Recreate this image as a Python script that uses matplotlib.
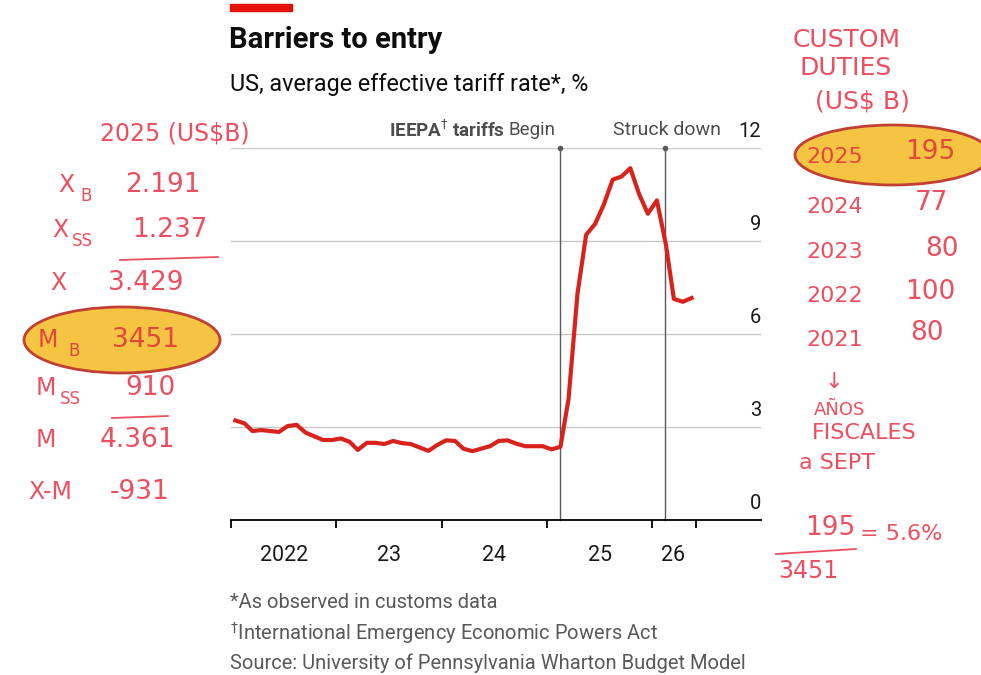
import pandas as pd
import matplotlib
matplotlib.use("Agg")
import matplotlib.pyplot as plt
from matplotlib.patches import Ellipse, Rectangle

plt.rcParams["font.family"] = ["Roboto", "DejaVu Sans"]

# monthly average effective tariff rate, %, Jan 2022 - May 2026
months = pd.date_range("2022-01-01", periods=53, freq="MS")
rate = [3.21, 3.12, 2.87, 2.90, 2.87, 2.84, 3.03, 3.07, 2.82, 2.70, 2.58, 2.58,
        2.63, 2.52, 2.26, 2.49, 2.49, 2.45, 2.55, 2.48, 2.45, 2.34, 2.23, 2.42,
        2.57, 2.55, 2.30, 2.22, 2.30, 2.38, 2.55, 2.57, 2.46, 2.38, 2.38, 2.38,
        2.28, 2.36, 3.90, 7.30, 9.20, 9.55, 10.17, 10.98, 11.08, 11.35, 10.50, 9.88,
        10.31, 8.90, 7.13, 7.04, 7.16]
events = {"Begin": "2025-02-14", "Struck down": "2026-02-14"}
year_labels = ["2022", "23", "24", "25", "26"]
yticks = [0, 3, 6, 9, 12]

# handwritten notes
left_notes = [("X", "B", "2.191"), ("X", "SS", "1.237"), ("X", "", "3.429"),
              ("M", "B", "3451"), ("M", "SS", "910"), ("M", "", "4.361"), ("X-M", "", "-931")]
duty_years = ["2025", "2024", "2023", "2022", "2021"]
duty_vals = ["195", "77", "80", "100", "80"]


def dec_year(d):
    d = pd.Timestamp(d)
    return d.year + (d.dayofyear - 1) / 365.0


x = [dec_year(m) + 0.5 / 12 for m in months]

fig = plt.figure(figsize=(9.81, 6.75), dpi=100)
W, H = 981, 675

# main axes, placed in pixels
x0, x1, yb, yt = 231, 761, 520, 148
ax = fig.add_axes([x0 / W, 1 - yb / H, (x1 - x0) / W, (yb - yt) / H])
xmax = 2027.03
ax.set_xlim(2022, xmax)
ax.set_ylim(0, 12)

for v in yticks[1:]:
    ax.axhline(v, color="#c9c9c9", lw=1, zorder=1)
    ax.text(xmax, v + 0.22, str(v), ha="right", va="bottom", fontsize=14.5, color="#1a1a1a")
ax.text(xmax, 0.22, "0", ha="right", va="bottom", fontsize=14.5, color="#1a1a1a")

for name, d in events.items():
    xv = dec_year(d)
    ax.plot([xv, xv], [0, 12], color="#5a5a5a", lw=1, zorder=2, clip_on=False)
    ax.plot([xv], [12], "o", color="#5a5a5a", ms=3, zorder=2, clip_on=False)

ax.plot(x, rate, color="#d8231c", lw=3, solid_joinstyle="round", zorder=3)

for s in ["top", "right", "left"]:
    ax.spines[s].set_visible(False)
ax.spines["bottom"].set_linewidth(1.3)
ax.set_yticks([])
ax.set_xticks([2022, 2023, 2024, 2025, 2026, 2026.41])
ax.set_xticklabels([])
ax.tick_params(axis="x", direction="out", length=6, width=1.3)
for i, lab in enumerate(year_labels):
    xp = 2022.5 + i if lab != "26" else 2026.2
    ax.text(xp, -0.8, lab, ha="center", va="top", fontsize=15.5, color="#1a1a1a")

# event labels
fig.canvas.draw()
r = fig.canvas.get_renderer()
bx = dec_year(events["Begin"]) - 0.04
t1 = ax.text(bx, 12.58, "Begin", ha="right", va="center", fontsize=13.5, color="#4d4d4d")
bb = t1.get_window_extent(r)
xl = ax.transData.inverted().transform((bb.x0 - 4, 0))[0]
ax.text(xl, 12.58, r"IEEPA$^{\dagger}$ tariffs", ha="right", va="center", fontsize=13.5,
        fontweight="bold", color="#4d4d4d")
ax.text(dec_year(events["Struck down"]) + 0.53, 12.58, "Struck down", ha="right",
        va="center", fontsize=14, color="#4d4d4d")

# header and footer
fig.patches.append(Rectangle((230 / W, 1 - 11 / H), 62 / W, 7 / H, transform=fig.transFigure,
                             color="#e3120b"))
fig.text(229 / W, 1 - 40 / H, "Barriers to entry", fontsize=21, fontweight="bold",
         va="center", color="#0d0d0d")
fig.text(230 / W, 1 - 85 / H, "US, average effective tariff rate*, %", fontsize=16.8,
         va="center", color="#0d0d0d")
foot = ["*As observed in customs data", r"$^{\dagger}$International Emergency Economic Powers Act",
        "Source: University of Pennsylvania Wharton Budget Model"]
for i, t in enumerate(foot):
    fig.text(230 / W, 1 - (603 + 30 * i) / H, t, fontsize=14.5, va="center", color="#595959")

# handwritten overlay
ov = fig.add_axes([0, 0, 1, 1], zorder=5)
ov.set_xlim(0, W)
ov.set_ylim(H, 0)
ov.axis("off")
ov.patch.set_alpha(0)
ink = "#ec4f60"
hw = dict(color=ink, va="center", family="DejaVu Sans")

ov.add_patch(Ellipse((122, 340), 196, 66, fc="#f6c443", ec="#c23f33", lw=2))
ov.add_patch(Ellipse((893, 155), 196, 60, fc="#f6c443", ec="#c23f33", lw=2, clip_on=False))

ov.text(100, 133, "2025 (US$B)", fontsize=17, **hw)
left_y = [185, 230, 283, 340, 388, 440, 492]
left_x = [58, 52, 50, 38, 36, 36, 28]
sub_x = [80, 72, 0, 68, 60, 0, 0]
val_x = [125, 132, 108, 112, 125, 100, 110]
for (a, sub, val), yy, lx, sx, vx in zip(left_notes, left_y, left_x, sub_x, val_x):
    c = "#e2473a" if a == "M" and sub == "B" else ink
    ov.text(lx, yy, a, fontsize=17, color=c, va="center", family="DejaVu Sans")
    if sub:
        ov.text(sx, yy + 11, sub, fontsize=12, color=c, va="center", family="DejaVu Sans")
    ov.text(vx, yy, val, fontsize=19, color=c, va="center", family="DejaVu Sans")
ov.plot([120, 218], [260, 257], color=ink, lw=1.3)
ov.plot([112, 168], [418, 416], color=ink, lw=1.3)

ov.text(793, 40, "CUSTOM", fontsize=18, **hw)
ov.text(800, 68, "DUTIES", fontsize=18, **hw)
ov.text(815, 101, "(US$ B)", fontsize=18, **hw)
duty_y = [157, 207, 252, 296, 340]
val_y = [152, 203, 249, 292, 333]
duty_vx = [905, 915, 925, 905, 910]
for yy, vy, yr, v, vx in zip(duty_y, val_y, duty_years, duty_vals, duty_vx):
    c = "#e2473a" if yr == "2025" else ink
    ov.text(806, yy, yr, fontsize=16, color=c, va="center", family="DejaVu Sans")
    ov.text(vx, vy, v, fontsize=19, color=c, va="center", family="DejaVu Sans")
ov.text(824, 382, "\u2193", fontsize=16, **hw)
ov.text(814, 410, "AÑOS", fontsize=13, **hw)
ov.text(812, 433, "FISCALES", fontsize=16, **hw)
ov.text(799, 463, "a SEPT", fontsize=16, **hw)
ov.text(805, 528, "195", fontsize=19, **hw)
ov.text(860, 534, "= 5.6%", fontsize=16, **hw)
ov.plot([776, 856], [554, 549], color=ink, lw=1.3)
ov.text(778, 571, "3451", fontsize=17, **hw)

fig.savefig("out.png", dpi=100, facecolor="white")
